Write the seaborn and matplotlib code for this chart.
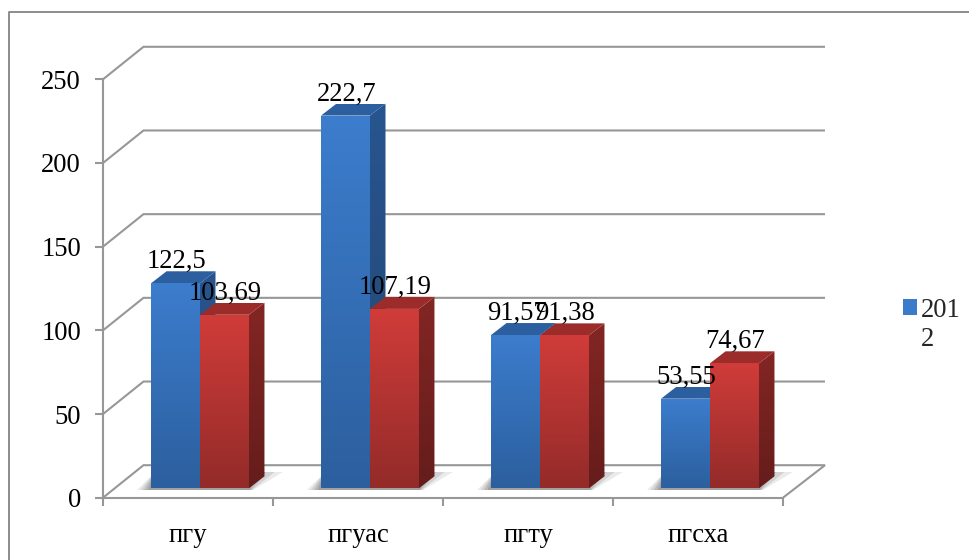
import numpy as np
import pandas as pd
import matplotlib
matplotlib.use("Agg")
import matplotlib.pyplot as plt
import seaborn as sns
from matplotlib.colors import to_rgb
from matplotlib.lines import Line2D
from matplotlib.patches import Polygon, Rectangle, Patch
from matplotlib.transforms import IdentityTransform, Affine2D
from matplotlib.legend_handler import HandlerPatch

universities = ["пгу", "пгуас", "пгту", "пгсха"]
values_2012 = [122.5, 222.7, 91.57, 53.55]
values_second = [103.69, 107.19, 91.38, 74.67]
labels_2012 = ["122,5", "222,7", "91,57", "53,55"]
labels_second = ["103,69", "107,19", "91,38", "74,67"]
y_ticks = [0, 50, 100, 150, 200, 250]
legend_text = "201\n2"

W, H = 969, 560
GREY = "#979797"
FONT = 19.2

sns.set_theme(style="white")
plt.rcParams["font.family"] = ["Liberation Serif", "DejaVu Serif"]

df = pd.DataFrame({
    "university": universities * 2,
    "value": values_2012 + values_second,
    "year": ["2012"] * 4 + ["second"] * 4,
})

fig = plt.figure(figsize=(W / 100, H / 100), dpi=100)
ax = fig.add_axes([103 / W, (H - 497.7) / H, 680 / W, (497.7 - 79.3) / H])
ax.patch.set_alpha(0)

sns.barplot(data=df, x="university", y="value", hue="year",
            palette=["#3A7BCB", "#CE3B38"], width=0.576, gap=0,
            saturation=1, linewidth=0, ax=ax, legend=False)

ax.set_xlim(-0.5, 3.5)
ax.set_ylim(0, 250)
ax.set_autoscale_on(False)
ax.set_xlabel("")
ax.set_ylabel("")
ax.set_yticks(y_ticks)
ax.set_xticks(range(4))
ax.set_xticklabels(universities)
ax.set_xticks(np.arange(-0.5, 3.6, 1), minor=True)
for s in ("top", "right"):
    ax.spines[s].set_visible(False)
for s in ("left", "bottom"):
    ax.spines[s].set_color(GREY)
    ax.spines[s].set_linewidth(1.5)
ax.tick_params(axis="y", which="major", length=5.8, width=1.5, color=GREY,
               labelsize=FONT, pad=10, labelcolor="black", left=True)
ax.tick_params(axis="x", which="major", length=0, labelsize=FONT, pad=18,
               labelcolor="black")
ax.tick_params(axis="x", which="minor", length=5.8, width=1.5, color=GREY,
               bottom=True)

# depth of the pseudo-3D box, in pixels
WALL_DX, WALL_DY = 40.5, 32.5
BAR_DX, BAR_DY = 12.0, 9.4
SIDE_DX, SIDE_DY = 15.5, 12.0
ID = IdentityTransform()


def line(pts, lw=1.5, z=1):
    xs, ys = zip(*pts)
    ax.add_line(Line2D(xs, ys, color=GREY, lw=lw, transform=ID, clip_on=False,
                       zorder=z, solid_capstyle="butt", solid_joinstyle="miter"))


x0, _ = ax.transData.transform((-0.5, 0))
x1, _ = ax.transData.transform((3.5, 0))
for t in y_ticks:
    _, yp = ax.transData.transform((0, t))
    if t > 0:
        line([(x0, yp), (x0 + WALL_DX, yp + WALL_DY), (x1 + 42, yp + WALL_DY)])
    else:
        line([(x0, yp), (x0 + WALL_DX, yp + WALL_DY), (x1 + 42, yp + WALL_DY), (x1, yp)])


def gradient(verts, top, bottom, z):
    verts = np.asarray(verts)
    g = np.linspace(0, 1, 128)[:, None, None]
    img = (1 - g) * np.array(to_rgb(top))[None, None, :] + g * np.array(to_rgb(bottom))[None, None, :]
    im = ax.imshow(img, extent=(verts[:, 0].min(), verts[:, 0].max(),
                                verts[:, 1].min(), verts[:, 1].max()),
                   aspect="auto", interpolation="bilinear", zorder=z, transform=ID)
    im.set_clip_path(Polygon(verts, closed=True, transform=ID))


STYLES = [
    dict(front=("#3C7DCD", "#2C5F9E"), side=("#28558F", "#234670"), top=("#2C5F9F", "#2C5F9F")),
    dict(front=("#D03C39", "#932B29"), side=("#832624", "#651D1B"), top=("#9C2C2A", "#9C2C2A")),
]
shift = Affine2D().translate(BAR_DX, BAR_DY)

# soft floor shadow under each pair of bars
for c in range(4):
    left, _ = ax.transData.transform((c - 0.288, 0))
    right, _ = ax.transData.transform((c + 0.288, 0))
    left += BAR_DX
    right += BAR_DX
    base = H - 490
    for grow, a in zip((1.0, 0.75, 0.5, 0.25), (0.12, 0.16, 0.20, 0.24)):
        ax.add_patch(Polygon([(left - 14 * grow, base), (right + 4 * grow, base),
                              (right + 34 * grow, base + 18), (left + 4, base + 18)],
                             closed=True, transform=ID, facecolor="#555555", alpha=a,
                             edgecolor="none", clip_on=False, zorder=1.5))

for i, (container, texts) in enumerate(zip(ax.containers, (labels_2012, labels_second))):
    st = STYLES[i]
    z = 3 + i
    for bar, txt in zip(container.patches, texts):
        bar.set_transform(ax.transData + shift)
        bar.set_zorder(z)
        (xa, ya), (xb, yb) = ax.transData.transform(
            [(bar.get_x(), 0), (bar.get_x() + bar.get_width(), bar.get_height())])
        xa += BAR_DX; xb += BAR_DX; ya += BAR_DY; yb += BAR_DY
        gradient([(xa, ya), (xb, ya), (xb, yb), (xa, yb)], *st["front"], z)
        gradient([(xb, ya), (xb + SIDE_DX, ya + SIDE_DY), (xb + SIDE_DX, yb + SIDE_DY), (xb, yb)],
                 *st["side"], z)
        gradient([(xa, yb), (xb, yb), (xb + SIDE_DX, yb + SIDE_DY), (xa + SIDE_DX, yb + SIDE_DY)],
                 *st["top"], z)
        ax.annotate(txt, xy=(bar.get_x() + bar.get_width() / 2, bar.get_height()),
                    xytext=(BAR_DX + 1, BAR_DY + SIDE_DY + 3), textcoords="offset pixels",
                    ha="center", va="baseline", fontsize=FONT, color="black", zorder=10,
                    annotation_clip=False)

fig.add_artist(Line2D([9 / W, 9 / W, 1], [0, (H - 12) / H, (H - 12) / H], color="#8c8c8c", lw=1.4))


def top_square(legend, orig_handle, xdescent, ydescent, width, height, fontsize):
    return Rectangle((-xdescent, -ydescent + 13), width, height)


leg = ax.legend(handles=[Patch(facecolor="#3A7BCB", edgecolor="none")], labels=[legend_text],
                loc="upper left", bbox_to_anchor=(903 / W, (H - 298) / H),
                bbox_transform=fig.transFigure, frameon=False, fontsize=FONT,
                handlelength=0.54, handleheight=0.54, handletextpad=0.14,
                borderpad=0, borderaxespad=0,
                handler_map={Patch: HandlerPatch(patch_func=top_square)})

fig.savefig("out.png", dpi=100, facecolor="white")
